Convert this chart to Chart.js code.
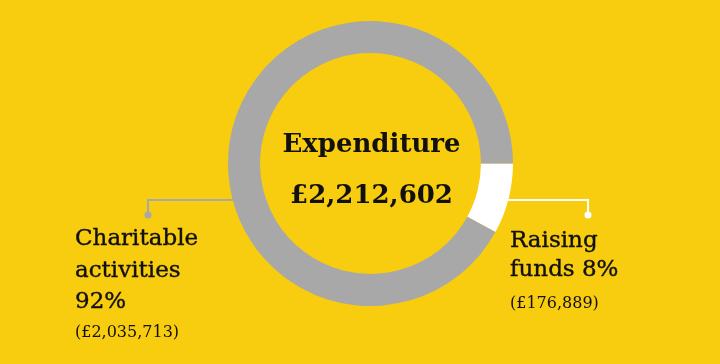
<!DOCTYPE html>
<html lang="en">
<head>
    <meta charset="UTF-8">
    <title>Expenditure</title>
    <script src="https://cdn.jsdelivr.net/npm/chart.js@4.4.0/dist/chart.umd.min.js"></script>
    <style>
        html, body {
            margin: 0;
            padding: 0;
            background: #F8CC0F;
        }
        #wrap {
            width: 720px;
            height: 364px;
        }
    </style>
</head>
<body>
    <div id="wrap">
        <canvas id="chart" width="720" height="364"></canvas>
    </div>

    <script>
        const categories = ['Raising funds', 'Charitable activities'];
        const amounts = [176889, 2035713];
        const percents = [8, 92];
        const total = 2212602;
        const sliceColors = ['#FFFFFF', '#A8A8A8'];

        const fmt = n => '£' + n.toLocaleString('en-GB');
        const serif = '"DejaVu Serif", "Liberation Serif", serif';

        const labelsPlugin = {
            id: 'labels',
            afterDraw(chart) {
                const ctx = chart.ctx;
                const arc = chart.getDatasetMeta(0).data[0];
                const cx = arc.x, cy = arc.y, r = arc.outerRadius;
                ctx.save();

                // centre title
                ctx.fillStyle = '#111';
                ctx.textAlign = 'center';
                ctx.textBaseline = 'alphabetic';
                ctx.font = 'bold 26px ' + serif;
                ctx.fillText('Expenditure', cx + 1, 152);
                ctx.fillText(fmt(total), cx + 1, 203);

                // connectors
                const ly = 200;
                const dx = Math.sqrt(r * r - (ly - cy) * (ly - cy));
                ctx.lineWidth = 2;

                ctx.strokeStyle = sliceColors[1];
                ctx.fillStyle = sliceColors[1];
                ctx.beginPath();
                ctx.moveTo(cx - dx + 2, ly);
                ctx.lineTo(148, ly);
                ctx.lineTo(148, 214);
                ctx.stroke();
                ctx.beginPath();
                ctx.arc(148, 215, 3.5, 0, Math.PI * 2);
                ctx.fill();

                ctx.strokeStyle = sliceColors[0];
                ctx.fillStyle = sliceColors[0];
                ctx.beginPath();
                ctx.moveTo(cx + dx - 6, ly);
                ctx.lineTo(588, ly);
                ctx.lineTo(588, 214);
                ctx.stroke();
                ctx.beginPath();
                ctx.arc(588, 215, 3.5, 0, Math.PI * 2);
                ctx.fill();

                // side labels
                ctx.fillStyle = '#111';
                ctx.strokeStyle = '#111';
                ctx.lineWidth = 0.4;
                ctx.textAlign = 'left';
                ctx.font = '23px ' + serif;
                const big = [
                    ['Charitable', 75, 245], ['activities', 75, 277], [percents[1] + '%', 75, 308],
                    ['Raising', 510, 247], ['funds ' + percents[0] + '%', 510, 276]
                ];
                big.forEach(([t, x, y]) => { ctx.fillText(t, x, y); ctx.strokeText(t, x, y); });
                ctx.font = '16px ' + serif;
                ctx.fillText('(' + fmt(amounts[1]) + ')', 75, 337);
                ctx.fillText('(' + fmt(amounts[0]) + ')', 510, 308);

                ctx.restore();
            }
        };

        new Chart(document.getElementById('chart'), {
            type: 'doughnut',
            data: {
                labels: categories,
                datasets: [{
                    data: amounts,
                    backgroundColor: sliceColors,
                    borderWidth: 0
                }]
            },
            options: {
                responsive: false,
                animation: false,
                rotation: 90,
                cutout: '77.5%',
                layout: {
                    padding: { left: 228, right: 207, top: 21, bottom: 58 }
                },
                plugins: {
                    legend: { display: false },
                    tooltip: { enabled: false }
                }
            },
            plugins: [labelsPlugin]
        });
    </script>
</body>
</html>
